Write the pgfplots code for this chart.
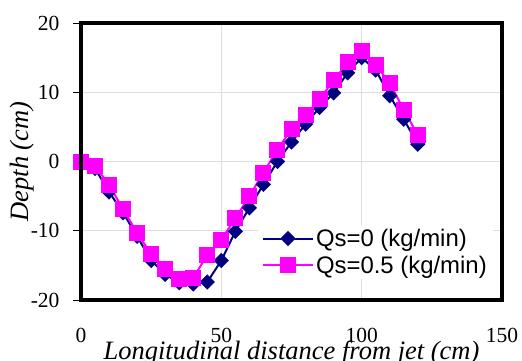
\documentclass[border=0pt]{standalone}
\usepackage{fontspec}
\setmainfont{Liberation Serif}
\newfontfamily\legfont{Liberation Sans}
\usepackage{pgfplots}
\pgfplotsset{compat=1.18}
\definecolor{navy}{HTML}{000080}
\definecolor{pinkm}{HTML}{FF00FF}
\begin{document}
\begin{tikzpicture}
\useasboundingbox (0,0) rectangle (522bp,361bp);
\begin{axis}[
  at={(81bp,61bp)}, anchor=south west,
  scale only axis, width=421bp, height=277bp,
  xmin=0, xmax=150, ymin=-20, ymax=20,
  xtick={0,50,100,150}, ytick={-20,-10,0,10,20},
  grid=major, major grid style={draw=black!13, line width=1bp},
  axis line style={draw=none},
  after end axis/.code={\draw[line width=3.5bp, black] (rel axis cs:0,0) rectangle (rel axis cs:1,1);},
  tick pos=left, tick align=outside, major tick length=8bp,
  xtick style={draw=none}, ytick style={black, line width=1bp},
  /pgf/number format/assume math mode=true,
  ticklabel style={font=\fontsize{21.6}{25}\selectfont},
  xticklabel style={anchor=base, yshift=-34bp},
  yticklabel style={anchor=east, xshift=-10bp},
  xlabel={\itshape Longitudinal distance from jet (cm)},
  ylabel={\itshape Depth (cm)},
  every axis x label/.style={at={(axis description cs:0.5,-0.2166)}, anchor=base, font=\fontsize{26.6}{30}\selectfont},
  every axis y label/.style={at={(axis description cs:-0.140,0.5)}, rotate=90, anchor=center, font=\fontsize{26.6}{30}\selectfont},
  legend style={at={(axis description cs:0.42,0.271)}, anchor=north west,
    draw=none, fill=white, font=\legfont\fontsize{24}{28}\selectfont,
    inner xsep=4bp, inner ysep=3bp, row sep=6bp,
    nodes={inner ysep=1bp}},
  legend cell align=left,
  legend image code/.code={\draw[mark repeat=2,mark phase=2] plot coordinates {(0bp,0bp) (25bp,0bp) (50bp,0bp)};},
]
\addplot[navy, line width=2bp, mark=square*, mark size=4.4bp, mark options={rotate=45, solid}] coordinates {
(0,0) (5,-1.0) (10,-4.4) (15,-7.4) (20,-10.8) (25,-14.3) (30,-16.3) (35,-17.5) (40,-17.7) (45,-17.4)
(50,-14.3) (55,-10.1) (60,-6.7) (65,-3.3) (70,0.0) (75,2.8) (80,5.4) (85,7.8) (90,9.9) (95,12.8)
(100,15.0) (105,13.2) (110,9.5) (115,6.1) (120,2.5)};
\addlegendentry{Qs=0 (kg/min)}
\addplot[pinkm, line width=2bp, mark=square*, mark size=7bp] coordinates {
(0,0) (5,-0.6) (10,-3.4) (15,-6.9) (20,-10.3) (25,-13.4) (30,-15.5) (35,-17.0) (40,-16.8) (45,-13.5)
(50,-11.3) (55,-8.2) (60,-5.0) (65,-1.6) (70,1.7) (75,4.7) (80,6.7) (85,9.0) (90,11.7) (95,14.3)
(100,16.0) (105,14.0) (110,11.3) (115,7.5) (120,3.8)};
\addlegendentry{Qs=0.5 (kg/min)}
\end{axis}
\end{tikzpicture}
\end{document}
